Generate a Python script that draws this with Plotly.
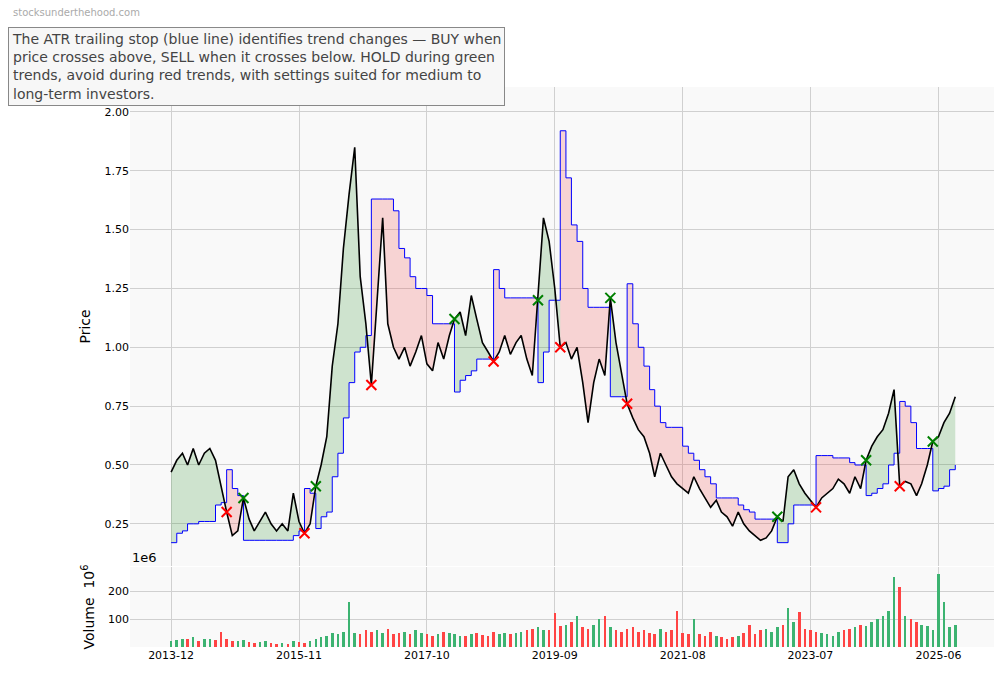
import plotly.graph_objects as go
from plotly.subplots import make_subplots
import pandas as pd

start = "2013-12-01"
price = [0.47,0.52,0.55,0.50,0.57,0.50,0.55,0.57,0.52,0.40,0.30,0.20,0.22,0.36,0.27,0.22,0.26,0.30,0.25,0.22,
         0.25,0.22,0.38,0.26,0.21,0.25,0.41,0.50,0.62,0.92,1.10,1.42,1.65,1.85,1.30,1.10,0.84,1.20,1.55,1.10,
         1.00,0.95,1.00,0.92,0.98,1.05,0.93,0.90,1.02,0.95,1.05,1.12,1.15,1.05,1.22,1.12,1.02,0.98,0.94,0.98,
         1.05,0.97,1.02,1.05,0.95,0.88,1.20,1.55,1.45,1.25,1.00,1.02,0.95,1.00,0.85,0.68,0.85,0.95,0.88,1.21,
         1.02,0.88,0.76,0.70,0.65,0.62,0.55,0.45,0.55,0.50,0.45,0.42,0.40,0.38,0.45,0.40,0.36,0.32,0.35,0.30,
         0.28,0.24,0.30,0.25,0.22,0.20,0.18,0.19,0.22,0.28,0.26,0.45,0.48,0.42,0.38,0.35,0.32,0.36,0.38,0.40,
         0.44,0.42,0.38,0.45,0.40,0.52,0.58,0.62,0.65,0.72,0.82,0.41,0.43,0.42,0.37,0.42,0.50,0.60,0.62,0.68,
         0.72,0.79]
stop = [0.17,0.21,0.22,0.25,0.25,0.26,0.26,0.26,0.33,0.34,0.48,0.40,0.37,0.18,0.18,0.18,0.18,0.18,0.18,0.18,
        0.18,0.18,0.20,0.22,0.40,0.38,0.23,0.28,0.30,0.45,0.55,0.70,0.85,0.98,1.00,1.05,1.63,1.63,1.63,1.63,
        1.58,1.42,1.38,1.30,1.25,1.25,1.22,1.10,1.10,1.10,1.10,0.81,0.86,0.88,0.90,0.95,0.95,0.95,1.33,1.25,
        1.21,1.21,1.21,1.21,1.21,1.21,0.85,0.98,1.20,1.20,1.92,1.72,1.52,1.45,1.25,1.17,1.17,1.17,1.17,0.79,
        0.79,0.79,1.27,1.10,1.00,0.92,0.82,0.75,0.68,0.66,0.66,0.66,0.58,0.55,0.52,0.48,0.45,0.42,0.36,0.36,
        0.36,0.36,0.33,0.31,0.30,0.27,0.27,0.27,0.27,0.17,0.17,0.25,0.33,0.33,0.33,0.33,0.54,0.54,0.54,0.53,
        0.53,0.53,0.51,0.50,0.50,0.37,0.38,0.40,0.42,0.50,0.55,0.77,0.75,0.68,0.57,0.57,0.57,0.39,0.40,0.41,
        0.48,0.50]
volume = [22,25,30,28,35,20,28,30,25,55,30,22,20,25,18,15,18,20,15,12,
          14,12,20,18,15,22,30,35,40,50,45,55,160,50,45,60,55,60,50,65,
          45,50,55,48,60,50,45,40,45,55,50,45,40,38,45,50,42,40,55,48,
          50,45,50,55,60,65,70,60,60,120,75,80,90,110,70,65,80,100,110,70,
          60,55,65,70,55,60,50,45,65,55,60,130,50,45,100,45,40,55,40,35,
          30,35,40,50,80,45,60,65,55,70,80,140,90,125,65,60,55,50,45,40,
          55,60,65,70,80,75,90,100,110,130,250,215,110,100,90,80,75,60,260,160,
          70,80]

dates = pd.date_range(start, periods=len(price), freq="MS")
up = [p >= s for p, s in zip(price, stop)]

fig = make_subplots(rows=2, cols=1, shared_xaxes=True, row_heights=[0.857, 0.143], vertical_spacing=0.002)

i = 0
n = len(price)
while i < n:
    j = i
    while j + 1 < n and up[j + 1] == up[i]:
        j += 1
    a, b = i, min(j + 1, n - 1)
    col = "rgba(34,139,34,0.2)" if up[i] else "rgba(240,60,60,0.2)"
    fig.add_trace(go.Scatter(x=dates[a:b+1], y=stop[a:b+1], mode="lines", line=dict(width=0, shape="hv"),
                             showlegend=False, hoverinfo="skip"), row=1, col=1)
    fig.add_trace(go.Scatter(x=dates[a:b+1], y=price[a:b+1], mode="lines", line=dict(width=0),
                             fill="tonexty", fillcolor=col, showlegend=False, hoverinfo="skip"), row=1, col=1)
    i = j + 1

fig.add_trace(go.Scatter(x=dates, y=stop, mode="lines", line=dict(color="blue", width=1, shape="hv"),
                         showlegend=False), row=1, col=1)
fig.add_trace(go.Scatter(x=dates, y=price, mode="lines", line=dict(color="black", width=1.6),
                         showlegend=False), row=1, col=1)

buys = [k for k in range(1, n) if up[k] and not up[k-1]]
sells = [k for k in range(1, n) if not up[k] and up[k-1]]
fig.add_trace(go.Scatter(x=[dates[k] for k in buys], y=[price[k] for k in buys], mode="markers",
                         marker=dict(symbol="x-thin", size=10, line=dict(color="green", width=2)),
                         showlegend=False), row=1, col=1)
fig.add_trace(go.Scatter(x=[dates[k] for k in sells], y=[price[k] for k in sells], mode="markers",
                         marker=dict(symbol="x-thin", size=10, line=dict(color="red", width=2)),
                         showlegend=False), row=1, col=1)

vcol = ["#3cb371" if k == 0 or price[k] >= price[k-1] else "#ff4444" for k in range(n)]
fig.add_trace(go.Bar(x=dates, y=volume, marker=dict(color=vcol, line=dict(width=0)),
                     width=14*86400000, showlegend=False), row=2, col=1)

ticks = pd.date_range("2013-12-01", periods=7, freq="23MS")
grid = dict(showgrid=True, gridcolor="#d0d0d0", gridwidth=1, zeroline=False, showline=False,
            tickfont=dict(size=11, color="#000"), ticks="", automargin=False)
fig.update_xaxes(**grid, range=["2013-04-20", "2026-04-01"], tickvals=ticks,
                 ticktext=[d.strftime("%Y-%m") for d in ticks])
fig.update_xaxes(showticklabels=False, row=1, col=1)
fig.update_yaxes(**grid)
fig.update_yaxes(range=[0.071, 2.106], tickvals=[0.25,0.5,0.75,1.0,1.25,1.5,1.75,2.0],
                 tickformat=".2f", title=dict(text="Price", font=dict(size=14), standoff=10), row=1, col=1)
fig.update_yaxes(range=[0, 286], tickvals=[100, 200], title=dict(text="Volume  10<sup>6</sup>", font=dict(size=14), standoff=10),
                 row=2, col=1)

fig.update_layout(width=1004, height=678, margin=dict(l=122, r=18, t=79, b=39, autoexpand=False),
                  paper_bgcolor="white", plot_bgcolor="#f9f9f9",
                  font=dict(family="DejaVu Sans", color="#000"), bargap=0)
fig.add_annotation(xref="paper", yref="paper", x=0, y=0.143, xanchor="left", yanchor="bottom",
                   text="1e6", showarrow=False, font=dict(size=13))
fig.add_annotation(xref="paper", yref="paper", x=-0.138, y=1.12, xanchor="left", yanchor="bottom",
                   text="stocksunderthehood.com", showarrow=False, font=dict(size=10, color="#aaa"))
fig.add_annotation(xref="paper", yref="paper", x=-0.141, y=0.966, xanchor="left", yanchor="bottom", align="left",
                   text="The ATR trailing stop (blue line) identifies trend changes — BUY when<br>price crosses above, SELL when it crosses below. HOLD during green<br>trends, avoid during red trends, with settings suited for medium to<br>long-term investors.",
                   showarrow=False, font=dict(size=14, color="#444"), bgcolor="#f7f7f7",
                   bordercolor="#888", borderwidth=1, borderpad=3)
fig.write_html("out.html")
